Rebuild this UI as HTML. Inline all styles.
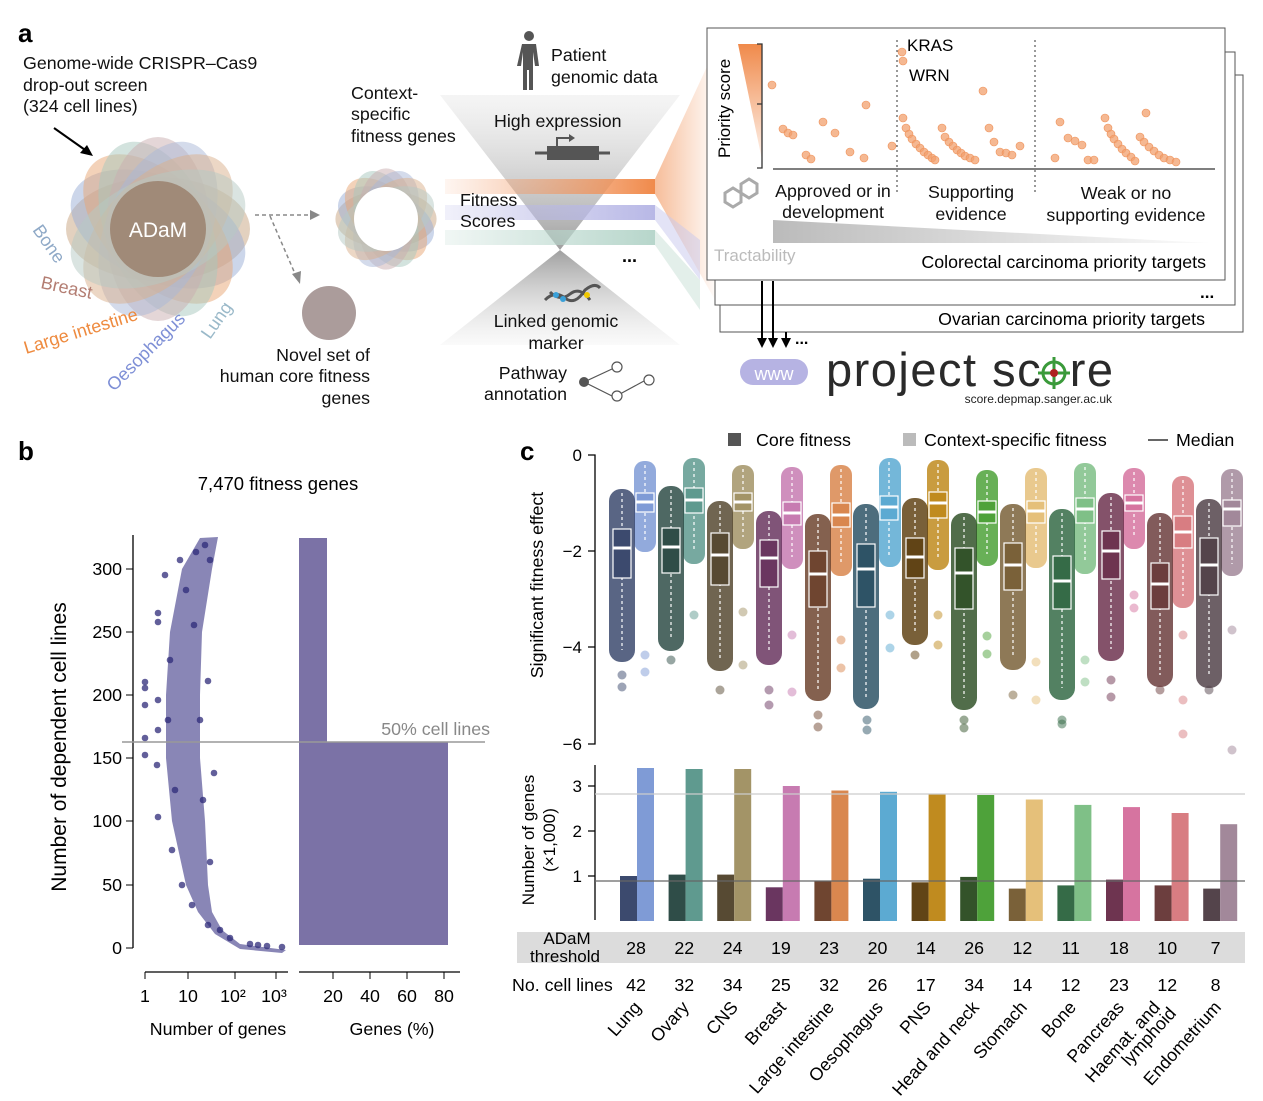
<!DOCTYPE html>
<html><head><meta charset="utf-8"><style>
body{margin:0;background:#fff}
svg{display:block;font-family:"Liberation Sans",sans-serif}
</style></head><body>
<svg width="1263" height="1101" viewBox="0 0 1263 1101" xmlns="http://www.w3.org/2000/svg">
<defs>
<linearGradient id="gt" x1="0" y1="0" x2="0" y2="1"><stop offset="0" stop-color="#ddd" stop-opacity="0.3"/><stop offset="1" stop-color="#888" stop-opacity="0.8"/></linearGradient>
<linearGradient id="gb" x1="0" y1="1" x2="0" y2="0"><stop offset="0" stop-color="#eee" stop-opacity="0.3"/><stop offset="1" stop-color="#888" stop-opacity="0.8"/></linearGradient>
<linearGradient id="go" x1="0" y1="0" x2="1" y2="0"><stop offset="0" stop-color="#f4a070" stop-opacity="0.1"/><stop offset="1" stop-color="#f08a4b"/></linearGradient>
<linearGradient id="gp" x1="0" y1="0" x2="1" y2="0"><stop offset="0" stop-color="#b8b8e6" stop-opacity="0.2"/><stop offset="1" stop-color="#b8b8e6"/></linearGradient>
<linearGradient id="gg" x1="0" y1="0" x2="1" y2="0"><stop offset="0" stop-color="#b7d6cb" stop-opacity="0.2"/><stop offset="1" stop-color="#b7d6cb"/></linearGradient>
<linearGradient id="gfan" x1="0" y1="0" x2="1" y2="0"><stop offset="0" stop-color="#f08a4b" stop-opacity="0.8"/><stop offset="1" stop-color="#f08a4b" stop-opacity="0.05"/></linearGradient>
<linearGradient id="gps" x1="0" y1="0" x2="0" y2="1"><stop offset="0" stop-color="#f08a4b"/><stop offset="1" stop-color="#f08a4b" stop-opacity="0.1"/></linearGradient>
<linearGradient id="gtr" x1="0" y1="0" x2="1" y2="0"><stop offset="0" stop-color="#bbb"/><stop offset="1" stop-color="#bbb" stop-opacity="0.05"/></linearGradient>
<g id="fl">
<ellipse rx="92" ry="52" transform="rotate(0)" fill="#c8a47f" fill-opacity="0.5"/>
<ellipse rx="92" ry="52" transform="rotate(22.5)" fill="#9aaed6" fill-opacity="0.5"/>
<ellipse rx="92" ry="52" transform="rotate(45)" fill="#e8a574" fill-opacity="0.5"/>
<ellipse rx="92" ry="52" transform="rotate(67.5)" fill="#a7c7bd" fill-opacity="0.5"/>
<ellipse rx="92" ry="52" transform="rotate(90)" fill="#c9aeb0" fill-opacity="0.5"/>
<ellipse rx="92" ry="52" transform="rotate(112.5)" fill="#a9b8d8" fill-opacity="0.5"/>
<ellipse rx="92" ry="52" transform="rotate(135)" fill="#d9b08c" fill-opacity="0.5"/>
<ellipse rx="92" ry="52" transform="rotate(157.5)" fill="#b5c9c4" fill-opacity="0.5"/>
</g>
</defs>
<!-- panel a -->
<text x="18" y="42" font-size="26" font-weight="bold">a</text>
<text font-size="17.8" fill="#111"><tspan x="23" y="69">Genome-wide CRISPR–Cas9</tspan><tspan x="23" y="91">drop-out screen</tspan><tspan x="23" y="112">(324 cell lines)</tspan></text>
<line x1="54" y1="128" x2="88" y2="152" stroke="#000" stroke-width="2"/><polygon points="93,156 80,153 87,145" fill="#000"/>
<use href="#fl" transform="translate(158,229)"/>
<circle cx="158" cy="229" r="48" fill="#a08a78"/>
<text x="158" y="237" font-size="21" fill="#fff" text-anchor="middle">ADaM</text>
<text transform="translate(32,230) rotate(55)" font-size="18" fill="#8fa9c7">Bone</text>
<text transform="translate(40,288) rotate(12)" font-size="18" fill="#b37d72">Breast</text>
<text transform="translate(26,354) rotate(-17)" font-size="18" fill="#ee8a3e">Large intestine</text>
<text transform="translate(114,392) rotate(-45)" font-size="18" fill="#7e8fd6">Oesophagus</text>
<text transform="translate(210,340) rotate(-55)" font-size="18" fill="#9ab9c9">Lung</text>
<use href="#fl" transform="translate(386,219) scale(0.55)"/>
<circle cx="386" cy="219" r="32" fill="#fff"/>
<text font-size="17.8" fill="#111"><tspan x="351" y="99">Context-</tspan><tspan x="351" y="120">specific</tspan><tspan x="351" y="142">fitness genes</tspan></text>
<line x1="255" y1="215" x2="312" y2="215" stroke="#888" stroke-width="1.5" stroke-dasharray="4,3"/><polygon points="320,215 310,210 310,220" fill="#888"/>
<line x1="270" y1="216" x2="296" y2="276" stroke="#888" stroke-width="1.5" stroke-dasharray="4,3"/><polygon points="300,284 292,274 301,271" fill="#888"/>
<circle cx="329" cy="313" r="27" fill="#ab9c9b"/>
<text font-size="17.8" fill="#111" text-anchor="end"><tspan x="370" y="361">Novel set of</tspan><tspan x="370" y="382">human core fitness</tspan><tspan x="370" y="404">genes</tspan></text>
<polygon points="440,95 680,95 560,250" fill="url(#gt)"/>
<polygon points="560,250 440,345 680,345" fill="url(#gb)"/>
<rect x="445" y="179" width="210" height="15" fill="url(#go)"/>
<rect x="445" y="205" width="210" height="15" fill="url(#gp)"/>
<rect x="445" y="230" width="210" height="15" fill="url(#gg)"/>
<polygon points="655,179 710,60 715,300 655,194" fill="url(#gfan)" opacity="0.7"/>
<polygon points="655,205 700,240 700,280 655,220" fill="#c8c8ee" opacity="0.5"/>
<polygon points="655,230 700,280 700,310 655,245" fill="#c8dfd6" opacity="0.5"/>
<text font-size="17.8" fill="#111"><tspan x="460" y="206">Fitness</tspan><tspan x="460" y="227">Scores</tspan></text>
<text x="622" y="262" font-size="18" font-weight="bold">...</text>
<g fill="#555"><circle cx="529" cy="36" r="5"/><path d="M522,44 h14 l3,22 h-4 l-2,-14 v38 h-4 v-20 h-2 v20 h-4 v-38 l-2,14 h-4z"/></g>
<text font-size="17.8" fill="#111"><tspan x="551" y="61">Patient</tspan><tspan x="551" y="83">genomic data</tspan></text>
<text x="494" y="127" font-size="17.8" fill="#111">High expression</text>
<rect x="547" y="146" width="52" height="14" fill="#555"/><line x1="535" y1="153" x2="610" y2="153" stroke="#555" stroke-width="3"/><path d="M557,146 v-8 h14" stroke="#555" stroke-width="2" fill="none"/><polygon points="575,138 569,134 569,142" fill="#555"/>
<path d="M545,300 q10,-10 20,-2 q10,8 20,-8 q10,-8 15,-2" stroke="#555" stroke-width="3" fill="none"/><path d="M550,292 q10,10 20,2 q10,-8 20,6" stroke="#555" stroke-width="3" fill="none"/><circle cx="556" cy="295" r="3" fill="#3aa0d8"/><circle cx="563" cy="299" r="3" fill="#3aa0d8"/><circle cx="587" cy="295" r="3" fill="#f0c800"/>
<text font-size="17.8" fill="#111" text-anchor="middle"><tspan x="556" y="327">Linked genomic</tspan><tspan x="556" y="349">marker</tspan></text>
<text font-size="17.8" fill="#111" text-anchor="end"><tspan x="567" y="379">Pathway</tspan><tspan x="567" y="400">annotation</tspan></text>
<circle cx="584" cy="382" r="5" fill="#555"/><g stroke="#555" fill="#fff" stroke-width="1.2"><line x1="584" y1="382" x2="612" y2="369"/><line x1="584" y1="382" x2="612" y2="396"/><line x1="620" y1="394" x2="644" y2="381"/><circle cx="617" cy="367" r="5"/><circle cx="617" cy="396" r="5"/><circle cx="649" cy="380" r="5"/></g>
<rect x="720" y="75" width="523" height="257" fill="#fff" stroke="#555"/>
<text x="1205" y="325" font-size="17.8" text-anchor="end">Ovarian carcinoma priority targets</text>
<rect x="715" y="52" width="520" height="253" fill="#fff" stroke="#555"/>
<text x="1200" y="298" font-size="17" font-weight="bold">...</text>
<rect x="707" y="28" width="518" height="252" fill="#fff" stroke="#555"/>
<text transform="translate(730,158) rotate(-90)" font-size="17">Priority score</text>
<polygon points="738,44 762,44 762,160" fill="url(#gps)"/>
<path d="M757,44 h5 v124 h-5 M757,104 h5" stroke="#333" fill="none" stroke-width="1.3"/>
<line x1="773" y1="169" x2="1215" y2="169" stroke="#333" stroke-width="1.3"/>
<line x1="897" y1="40" x2="897" y2="195" stroke="#333" stroke-dasharray="2,3"/><line x1="1035" y1="40" x2="1035" y2="195" stroke="#333" stroke-dasharray="2,3"/>
<text x="907" y="51" font-size="17">KRAS</text><text x="909" y="81" font-size="17">WRN</text>
<g fill="#f2a06e" fill-opacity="0.75" stroke="#ee9058" stroke-width="0.6">
<circle cx="772" cy="85" r="4"/><circle cx="783" cy="129" r="4"/><circle cx="788" cy="133" r="4"/><circle cx="793" cy="135" r="4"/><circle cx="823" cy="122" r="4"/><circle cx="835" cy="133" r="4"/><circle cx="806" cy="155" r="4"/><circle cx="811" cy="159" r="4"/><circle cx="850" cy="152" r="4"/><circle cx="866" cy="105" r="4"/><circle cx="892" cy="146" r="4"/><circle cx="864" cy="158" r="4"/><circle cx="902" cy="52" r="4"/><circle cx="903" cy="61" r="4"/><circle cx="983" cy="91" r="4"/>
<circle cx="903" cy="118" r="4"/><circle cx="906" cy="128" r="4"/><circle cx="909" cy="134" r="4"/><circle cx="912" cy="139" r="4"/><circle cx="916" cy="144" r="4"/><circle cx="920" cy="148" r="4"/><circle cx="924" cy="152" r="4"/><circle cx="928" cy="155" r="4"/><circle cx="932" cy="158" r="4"/><circle cx="935" cy="160" r="4"/>
<circle cx="942" cy="128" r="4"/><circle cx="945" cy="137" r="4"/><circle cx="949" cy="142" r="4"/><circle cx="953" cy="146" r="4"/><circle cx="957" cy="150" r="4"/><circle cx="961" cy="153" r="4"/><circle cx="965" cy="156" r="4"/><circle cx="970" cy="158" r="4"/><circle cx="975" cy="160" r="4"/>
<circle cx="989" cy="128" r="4"/><circle cx="994" cy="142" r="4"/><circle cx="1000" cy="152" r="4"/><circle cx="1006" cy="153" r="4"/><circle cx="1012" cy="155" r="4"/><circle cx="1020" cy="146" r="4"/>
<circle cx="1060" cy="122" r="4"/><circle cx="1068" cy="138" r="4"/><circle cx="1075" cy="141" r="4"/><circle cx="1082" cy="145" r="4"/><circle cx="1055" cy="158" r="4"/><circle cx="1088" cy="160" r="4"/><circle cx="1094" cy="160" r="4"/>
<circle cx="1105" cy="118" r="4"/><circle cx="1108" cy="128" r="4"/><circle cx="1111" cy="134" r="4"/><circle cx="1114" cy="139" r="4"/><circle cx="1118" cy="144" r="4"/><circle cx="1122" cy="149" r="4"/><circle cx="1126" cy="153" r="4"/><circle cx="1131" cy="157" r="4"/><circle cx="1135" cy="161" r="4"/>
<circle cx="1146" cy="113" r="4"/><circle cx="1140" cy="137" r="4"/><circle cx="1144" cy="142" r="4"/><circle cx="1149" cy="147" r="4"/><circle cx="1154" cy="151" r="4"/><circle cx="1159" cy="155" r="4"/><circle cx="1164" cy="158" r="4"/><circle cx="1170" cy="160" r="4"/><circle cx="1176" cy="162" r="4"/>
</g>
<g stroke="#aaa" stroke-width="3" fill="none"><polygon points="725,193 733,188 741,193 741,202 733,207 725,202"/><polygon points="741,184 749,179 757,184 757,193 749,198 741,193"/></g>
<text font-size="17.8" fill="#111" text-anchor="middle"><tspan x="833" y="197">Approved or in</tspan><tspan x="833" y="218">development</tspan><tspan x="971" y="198">Supporting</tspan><tspan x="971" y="220">evidence</tspan><tspan x="1126" y="199">Weak or no</tspan><tspan x="1126" y="221">supporting evidence</tspan></text>
<polygon points="773,220 773,243 1210,243" fill="url(#gtr)"/>
<text x="714" y="261" font-size="17" fill="#bbb">Tractability</text>
<text x="1206" y="268" font-size="17.8" text-anchor="end">Colorectal carcinoma priority targets</text>
<g stroke="#000" stroke-width="2"><line x1="762" y1="281" x2="762" y2="340"/><line x1="773" y1="281" x2="773" y2="340"/><line x1="786" y1="332" x2="786" y2="340"/></g>
<g fill="#000"><polygon points="757,338 767,338 762,348"/><polygon points="768,338 778,338 773,348"/><polygon points="781,338 791,338 786,348"/></g>
<text x="795" y="344" font-size="16" font-weight="bold">...</text>
<rect x="740" y="359" width="68" height="26" rx="13" fill="#b6b3e3"/><text x="774" y="380" font-size="18" fill="#fff" text-anchor="middle">www</text>
<text x="826" y="386" font-size="47" fill="#2a2a2a" letter-spacing="1.5">project sc<tspan fill="#fff">o</tspan>re</text>
<circle cx="1054" cy="373" r="11" fill="none" stroke="#3a9a3a" stroke-width="3"/><line x1="1038" y1="373" x2="1070" y2="373" stroke="#3a9a3a" stroke-width="3"/><line x1="1054" y1="357" x2="1054" y2="389" stroke="#3a9a3a" stroke-width="3"/><circle cx="1054" cy="373" r="4" fill="#b02020"/>
<text x="1112" y="403" font-size="12" text-anchor="end" fill="#222">score.depmap.sanger.ac.uk</text>
<!-- panel b -->
<text x="18" y="460" font-size="26" font-weight="bold">b</text>
<text x="278" y="490" font-size="18.5" text-anchor="middle">7,470 fitness genes</text>
<line x1="133" y1="535" x2="133" y2="948" stroke="#000" stroke-width="1.3"/>
<g stroke="#000"><line x1="126" y1="948" x2="133" y2="948"/><line x1="126" y1="885" x2="133" y2="885"/><line x1="126" y1="821" x2="133" y2="821"/><line x1="126" y1="758" x2="133" y2="758"/><line x1="126" y1="695" x2="133" y2="695"/><line x1="126" y1="632" x2="133" y2="632"/><line x1="126" y1="569" x2="133" y2="569"/></g>
<text font-size="17.8" text-anchor="end"><tspan x="122" y="954">0</tspan><tspan x="122" y="891">50</tspan><tspan x="122" y="827">100</tspan><tspan x="122" y="764">150</tspan><tspan x="122" y="701">200</tspan><tspan x="122" y="638">250</tspan><tspan x="122" y="575">300</tspan></text>
<text transform="translate(66,747) rotate(-90)" font-size="21" text-anchor="middle">Number of dependent cell lines</text>
<path d="M286,950 L240,944 L222,930 L212,912 L208,885 L205,821 L200,758 L200,695 L202,632 L212,569 L218,537 L200,538 L182,569 L170,632 L166,695 L166,758 L172,821 L186,885 L198,912 L215,934 L240,949 L282,953Z" fill="#3a3585" fill-opacity="0.6"/>
<g fill="#2e2a78" fill-opacity="0.75">
<circle cx="145" cy="682" r="3.3"/><circle cx="145" cy="688" r="3.3"/><circle cx="145" cy="705" r="3.3"/><circle cx="145" cy="738" r="3.3"/><circle cx="145" cy="755" r="3.3"/><circle cx="158" cy="613" r="3.3"/><circle cx="158" cy="622" r="3.3"/><circle cx="158" cy="700" r="3.3"/><circle cx="158" cy="730" r="3.3"/><circle cx="157" cy="765" r="3.3"/><circle cx="158" cy="817" r="3.3"/><circle cx="165" cy="575" r="3.3"/><circle cx="172" cy="850" r="3.3"/><circle cx="182" cy="885" r="3.3"/><circle cx="208" cy="681" r="3.3"/><circle cx="194" cy="625" r="3.3"/><circle cx="192" cy="905" r="3.3"/><circle cx="214" cy="773" r="3.3"/><circle cx="210" cy="862" r="3.3"/><circle cx="208" cy="925" r="3.3"/><circle cx="196" cy="552" r="3.3"/><circle cx="205" cy="545" r="3.3"/><circle cx="180" cy="560" r="3.3"/><circle cx="250" cy="944" r="3.3"/><circle cx="258" cy="945" r="3.3"/><circle cx="267" cy="946" r="3.3"/><circle cx="282" cy="947" r="3.3"/>
<circle cx="170" cy="660" r="3.3"/><circle cx="168" cy="720" r="3.3"/><circle cx="175" cy="790" r="3.3"/><circle cx="200" cy="720" r="3.3"/><circle cx="203" cy="800" r="3.3"/><circle cx="186" cy="590" r="3.3"/><circle cx="210" cy="560" r="3.3"/><circle cx="230" cy="938" r="3.3"/><circle cx="220" cy="930" r="3.3"/>
</g>
<rect x="299" y="538" width="28" height="407" fill="#7b72a6"/>
<rect x="299" y="742" width="149" height="203" fill="#7b72a6"/>
<line x1="122" y1="742" x2="485" y2="742" stroke="#999" stroke-width="1.5"/>
<text x="490" y="735" font-size="17.8" fill="#888" text-anchor="end">50% cell lines</text>
<line x1="145" y1="972" x2="288" y2="972" stroke="#000" stroke-width="1.3"/>
<g stroke="#000"><line x1="145" y1="972" x2="145" y2="979"/><line x1="188" y1="972" x2="188" y2="979"/><line x1="235" y1="972" x2="235" y2="979"/><line x1="276" y1="972" x2="276" y2="979"/></g>
<text font-size="17.8" text-anchor="middle" y="1002"><tspan x="145">1</tspan><tspan x="188">10</tspan><tspan x="233">10²</tspan><tspan x="274">10³</tspan></text>
<line x1="299" y1="972" x2="460" y2="972" stroke="#000" stroke-width="1.3"/>
<g stroke="#000"><line x1="333" y1="972" x2="333" y2="979"/><line x1="370" y1="972" x2="370" y2="979"/><line x1="407" y1="972" x2="407" y2="979"/><line x1="444" y1="972" x2="444" y2="979"/></g>
<text font-size="17.8" text-anchor="middle" y="1002"><tspan x="333">20</tspan><tspan x="370">40</tspan><tspan x="407">60</tspan><tspan x="444">80</tspan></text>
<text x="218" y="1035" font-size="17.8" text-anchor="middle">Number of genes</text>
<text x="392" y="1035" font-size="17.8" text-anchor="middle">Genes (%)</text>
<!-- panel c -->
<text x="520" y="460" font-size="26" font-weight="bold">c</text>
<rect x="728" y="433" width="13" height="13" fill="#555"/><text x="756" y="446" font-size="17.8">Core fitness</text>
<rect x="903" y="433" width="13" height="13" fill="#bbb"/><text x="924" y="446" font-size="17.8">Context-specific fitness</text>
<line x1="1148" y1="440" x2="1168" y2="440" stroke="#333" stroke-width="1.5"/><text x="1176" y="446" font-size="17.8">Median</text>
<path d="M588,455 h7 v289 h-7 M588,551 h7 M588,647 h7" stroke="#000" fill="none" stroke-width="1.3"/>
<text font-size="17" text-anchor="end"><tspan x="582" y="461">0</tspan><tspan x="582" y="557">−2</tspan><tspan x="582" y="653">−4</tspan><tspan x="582" y="750">−6</tspan></text>
<text transform="translate(543,585) rotate(-90)" font-size="17.8" text-anchor="middle">Significant fitness effect</text>
<g fill-opacity="0.85">
<rect x="634" y="461" width="22" height="91" rx="10" fill="#7f9bd6"/>
<rect x="683" y="458" width="22" height="106" rx="10" fill="#5f9a8f"/>
<rect x="732" y="465" width="22" height="84" rx="10" fill="#a39467"/>
<rect x="781" y="467" width="22" height="102" rx="10" fill="#c77bb1"/>
<rect x="830" y="465" width="22" height="111" rx="10" fill="#d9874f"/>
<rect x="879" y="458" width="22" height="109" rx="10" fill="#5caad2"/>
<rect x="927" y="460" width="22" height="110" rx="10" fill="#c08b1f"/>
<rect x="976" y="470" width="22" height="96" rx="10" fill="#4ea23a"/>
<rect x="1025" y="468" width="22" height="100" rx="10" fill="#e5c07a"/>
<rect x="1074" y="463" width="22" height="111" rx="10" fill="#7fc087"/>
<rect x="1123" y="468" width="22" height="81" rx="10" fill="#d674a0"/>
<rect x="1172" y="476" width="22" height="132" rx="10" fill="#d87d82"/>
<rect x="1221" y="469" width="22" height="107" rx="10" fill="#a2889a"/>
<rect x="609" y="489" width="26" height="173" rx="12" fill="#3c4a6e"/>
<rect x="658" y="486" width="26" height="165" rx="12" fill="#2f4d48"/>
<rect x="707" y="501" width="26" height="170" rx="12" fill="#574a33"/>
<rect x="756" y="511" width="26" height="154" rx="12" fill="#6a3660"/>
<rect x="805" y="514" width="26" height="187" rx="12" fill="#6f4530"/>
<rect x="853" y="504" width="26" height="205" rx="12" fill="#2e5366"/>
<rect x="902" y="498" width="26" height="147" rx="12" fill="#614416"/>
<rect x="951" y="513" width="26" height="197" rx="12" fill="#33532a"/>
<rect x="1000" y="504" width="26" height="166" rx="12" fill="#7a6139"/>
<rect x="1049" y="509" width="26" height="191" rx="12" fill="#356b47"/>
<rect x="1098" y="493" width="26" height="168" rx="12" fill="#6e3450"/>
<rect x="1147" y="513" width="26" height="174" rx="12" fill="#6c3e3e"/>
<rect x="1196" y="499" width="26" height="189" rx="12" fill="#54444b"/>
</g>
<g fill-opacity="0.5">
<circle cx="622" cy="675" r="4.5" fill="#3c4a6e"/><circle cx="622" cy="687" r="4.5" fill="#3c4a6e"/><circle cx="645" cy="655" r="4.5" fill="#7f9bd6"/><circle cx="645" cy="672" r="4.5" fill="#7f9bd6"/>
<circle cx="671" cy="660" r="4.5" fill="#2f4d48"/><circle cx="694" cy="615" r="4.5" fill="#5f9a8f"/>
<circle cx="720" cy="690" r="4.5" fill="#574a33"/><circle cx="743" cy="612" r="4.5" fill="#a39467"/><circle cx="743" cy="665" r="4.5" fill="#a39467"/>
<circle cx="769" cy="690" r="4.5" fill="#6a3660"/><circle cx="769" cy="705" r="4.5" fill="#6a3660"/><circle cx="792" cy="635" r="4.5" fill="#c77bb1"/><circle cx="792" cy="692" r="4.5" fill="#c77bb1"/>
<circle cx="818" cy="715" r="4.5" fill="#6f4530"/><circle cx="818" cy="727" r="4.5" fill="#6f4530"/><circle cx="841" cy="640" r="4.5" fill="#d9874f"/><circle cx="841" cy="668" r="4.5" fill="#d9874f"/>
<circle cx="867" cy="720" r="4.5" fill="#2e5366"/><circle cx="867" cy="730" r="4.5" fill="#2e5366"/><circle cx="890" cy="615" r="4.5" fill="#5caad2"/><circle cx="890" cy="648" r="4.5" fill="#5caad2"/>
<circle cx="915" cy="655" r="4.5" fill="#614416"/><circle cx="938" cy="615" r="4.5" fill="#c08b1f"/><circle cx="938" cy="645" r="4.5" fill="#c08b1f"/>
<circle cx="964" cy="720" r="4.5" fill="#33532a"/><circle cx="964" cy="728" r="4.5" fill="#33532a"/><circle cx="987" cy="636" r="4.5" fill="#4ea23a"/><circle cx="987" cy="654" r="4.5" fill="#4ea23a"/>
<circle cx="1013" cy="695" r="4.5" fill="#7a6139"/><circle cx="1036" cy="662" r="4.5" fill="#e5c07a"/><circle cx="1036" cy="700" r="4.5" fill="#e5c07a"/>
<circle cx="1062" cy="720" r="4.5" fill="#356b47"/><circle cx="1062" cy="724" r="4.5" fill="#356b47"/><circle cx="1085" cy="660" r="4.5" fill="#7fc087"/><circle cx="1085" cy="682" r="4.5" fill="#7fc087"/>
<circle cx="1111" cy="680" r="4.5" fill="#6e3450"/><circle cx="1111" cy="697" r="4.5" fill="#6e3450"/><circle cx="1134" cy="595" r="4.5" fill="#d674a0"/><circle cx="1134" cy="608" r="4.5" fill="#d674a0"/>
<circle cx="1160" cy="690" r="4.5" fill="#6c3e3e"/><circle cx="1183" cy="635" r="4.5" fill="#d87d82"/><circle cx="1183" cy="700" r="4.5" fill="#d87d82"/><circle cx="1183" cy="734" r="4.5" fill="#d87d82"/>
<circle cx="1209" cy="690" r="4.5" fill="#54444b"/><circle cx="1232" cy="630" r="4.5" fill="#a2889a"/><circle cx="1232" cy="750" r="4.5" fill="#a2889a"/>
</g>
<g stroke="#fff" stroke-width="1.2" stroke-dasharray="3,3">
<line x1="622" y1="493" x2="622" y2="650"/><line x1="645" y1="465" x2="645" y2="540"/>
<line x1="671" y1="490" x2="671" y2="639"/><line x1="694" y1="462" x2="694" y2="552"/>
<line x1="720" y1="505" x2="720" y2="659"/><line x1="743" y1="469" x2="743" y2="537"/>
<line x1="769" y1="515" x2="769" y2="653"/><line x1="792" y1="471" x2="792" y2="557"/>
<line x1="818" y1="518" x2="818" y2="689"/><line x1="841" y1="469" x2="841" y2="564"/>
<line x1="866" y1="508" x2="866" y2="697"/><line x1="889" y1="462" x2="889" y2="555"/>
<line x1="915" y1="502" x2="915" y2="633"/><line x1="938" y1="464" x2="938" y2="558"/>
<line x1="964" y1="517" x2="964" y2="698"/><line x1="987" y1="474" x2="987" y2="554"/>
<line x1="1013" y1="508" x2="1013" y2="658"/><line x1="1036" y1="472" x2="1036" y2="556"/>
<line x1="1062" y1="513" x2="1062" y2="688"/><line x1="1085" y1="467" x2="1085" y2="562"/>
<line x1="1111" y1="497" x2="1111" y2="649"/><line x1="1134" y1="472" x2="1134" y2="537"/>
<line x1="1160" y1="517" x2="1160" y2="675"/><line x1="1183" y1="480" x2="1183" y2="596"/>
<line x1="1209" y1="503" x2="1209" y2="676"/><line x1="1232" y1="473" x2="1232" y2="564"/>
</g>
<g stroke="#fff" stroke-width="1.2">
<rect x="613" y="529" width="18" height="49" fill="#3c4a6e"/><rect x="636" y="493" width="18" height="19" fill="#7f9bd6"/>
<rect x="662" y="528" width="18" height="45" fill="#2f4d48"/><rect x="685" y="488" width="18" height="25" fill="#5f9a8f"/>
<rect x="711" y="533" width="18" height="52" fill="#574a33"/><rect x="734" y="493" width="18" height="18" fill="#a39467"/>
<rect x="760" y="540" width="18" height="47" fill="#6a3660"/><rect x="783" y="502" width="18" height="23" fill="#c77bb1"/>
<rect x="809" y="551" width="18" height="56" fill="#6f4530"/><rect x="832" y="503" width="18" height="24" fill="#d9874f"/>
<rect x="857" y="544" width="18" height="63" fill="#2e5366"/><rect x="880" y="496" width="18" height="24" fill="#5caad2"/>
<rect x="906" y="538" width="18" height="40" fill="#614416"/><rect x="929" y="492" width="18" height="26" fill="#c08b1f"/>
<rect x="955" y="548" width="18" height="61" fill="#33532a"/><rect x="978" y="501" width="18" height="22" fill="#4ea23a"/>
<rect x="1004" y="543" width="18" height="47" fill="#7a6139"/><rect x="1027" y="501" width="18" height="22" fill="#e5c07a"/>
<rect x="1053" y="556" width="18" height="53" fill="#356b47"/><rect x="1076" y="498" width="18" height="25" fill="#7fc087"/>
<rect x="1102" y="531" width="18" height="48" fill="#6e3450"/><rect x="1125" y="495" width="18" height="16" fill="#d674a0"/>
<rect x="1151" y="563" width="18" height="46" fill="#6c3e3e"/><rect x="1174" y="516" width="18" height="32" fill="#d87d82"/>
<rect x="1200" y="538" width="18" height="57" fill="#54444b"/><rect x="1223" y="500" width="18" height="26" fill="#a2889a"/>
</g>
<g stroke="#fff" stroke-width="3">
<line x1="613" y1="548" x2="631" y2="548"/><line x1="636" y1="502" x2="654" y2="502"/>
<line x1="662" y1="547" x2="680" y2="547"/><line x1="685" y1="500" x2="703" y2="500"/>
<line x1="711" y1="555" x2="729" y2="555"/><line x1="734" y1="502" x2="752" y2="502"/>
<line x1="760" y1="558" x2="778" y2="558"/><line x1="783" y1="513" x2="801" y2="513"/>
<line x1="809" y1="574" x2="827" y2="574"/><line x1="832" y1="515" x2="850" y2="515"/>
<line x1="857" y1="569" x2="875" y2="569"/><line x1="880" y1="507" x2="898" y2="507"/>
<line x1="906" y1="557" x2="924" y2="557"/><line x1="929" y1="503" x2="947" y2="503"/>
<line x1="955" y1="573" x2="973" y2="573"/><line x1="978" y1="512" x2="996" y2="512"/>
<line x1="1004" y1="565" x2="1022" y2="565"/><line x1="1027" y1="511" x2="1045" y2="511"/>
<line x1="1053" y1="581" x2="1071" y2="581"/><line x1="1076" y1="509" x2="1094" y2="509"/>
<line x1="1102" y1="551" x2="1120" y2="551"/><line x1="1125" y1="503" x2="1143" y2="503"/>
<line x1="1151" y1="584" x2="1169" y2="584"/><line x1="1174" y1="532" x2="1192" y2="532"/>
<line x1="1200" y1="565" x2="1218" y2="565"/><line x1="1223" y1="509" x2="1241" y2="509"/>
</g>
<path d="M588,786 h7 M588,831 h7 M588,876 h7 M595,765 v155" stroke="#000" fill="none" stroke-width="1.3"/>
<text font-size="17" text-anchor="end"><tspan x="582" y="792">3</tspan><tspan x="582" y="837">2</tspan><tspan x="582" y="882">1</tspan></text>
<text transform="translate(534,840) rotate(-90)" font-size="17" text-anchor="middle">Number of genes</text>
<text transform="translate(555,840) rotate(-90)" font-size="17" text-anchor="middle">(×1,000)</text>
<rect x="620" y="876" width="17" height="45" fill="#3c4a6e"/><rect x="637" y="768" width="17" height="153" fill="#7f9bd6"/>
<rect x="668.6" y="874.6" width="17" height="46.4" fill="#2f4d48"/><rect x="685.6" y="769" width="17" height="152" fill="#5f9a8f"/>
<rect x="717.2" y="874.6" width="17" height="46.4" fill="#574a33"/><rect x="734.2" y="769" width="17" height="152" fill="#a39467"/>
<rect x="765.8" y="887.3" width="17" height="33.7" fill="#6a3660"/><rect x="782.8" y="786" width="17" height="135" fill="#c77bb1"/>
<rect x="814.4" y="881.4" width="17" height="39.6" fill="#6f4530"/><rect x="831.4" y="790.5" width="17" height="130.5" fill="#d9874f"/>
<rect x="863" y="878.7" width="17" height="42.3" fill="#2e5366"/><rect x="880" y="791.8" width="17" height="129.2" fill="#5caad2"/>
<rect x="911.6" y="882.3" width="17" height="38.7" fill="#614416"/><rect x="928.6" y="793.6" width="17" height="127.4" fill="#c08b1f"/>
<rect x="960.2" y="876.9" width="17" height="44.1" fill="#33532a"/><rect x="977.2" y="795" width="17" height="126" fill="#4ea23a"/>
<rect x="1008.8" y="888.6" width="17" height="32.4" fill="#7a6139"/><rect x="1025.8" y="799.5" width="17" height="121.5" fill="#e5c07a"/>
<rect x="1057.4" y="885.4" width="17" height="35.6" fill="#356b47"/><rect x="1074.4" y="804.9" width="17" height="116.1" fill="#7fc087"/>
<rect x="1106" y="879.6" width="17" height="41.4" fill="#6e3450"/><rect x="1123" y="807.1" width="17" height="113.9" fill="#d674a0"/>
<rect x="1154.6" y="885.4" width="17" height="35.6" fill="#6c3e3e"/><rect x="1171.6" y="813" width="17" height="108" fill="#d87d82"/>
<rect x="1203.2" y="888.6" width="17" height="32.4" fill="#54444b"/><rect x="1220.2" y="824.2" width="17" height="96.8" fill="#a2889a"/>
<line x1="595" y1="794" x2="1245" y2="794" stroke="#ccc" stroke-width="1.3"/>
<line x1="595" y1="881" x2="1245" y2="881" stroke="#666" stroke-width="1.3"/>
<rect x="517" y="932" width="728" height="31" fill="#dcdcdc"/>
<text font-size="17" text-anchor="middle"><tspan x="567" y="944">ADaM</tspan><tspan x="565" y="962">threshold</tspan></text>
<text x="512" y="991" font-size="17.8">No. cell lines</text>
<text font-size="17.8" text-anchor="middle" y="954"><tspan x="636">28</tspan><tspan x="684.3">22</tspan><tspan x="732.6">24</tspan><tspan x="780.9">19</tspan><tspan x="829.2">23</tspan><tspan x="877.5">20</tspan><tspan x="925.8">14</tspan><tspan x="974.1">26</tspan><tspan x="1022.4">12</tspan><tspan x="1070.7">11</tspan><tspan x="1119">18</tspan><tspan x="1167.3">10</tspan><tspan x="1215.6">7</tspan></text>
<text font-size="17.8" text-anchor="middle" y="991"><tspan x="636">42</tspan><tspan x="684.3">32</tspan><tspan x="732.6">34</tspan><tspan x="780.9">25</tspan><tspan x="829.2">32</tspan><tspan x="877.5">26</tspan><tspan x="925.8">17</tspan><tspan x="974.1">34</tspan><tspan x="1022.4">14</tspan><tspan x="1070.7">12</tspan><tspan x="1119">23</tspan><tspan x="1167.3">12</tspan><tspan x="1215.6">8</tspan></text>
<g font-size="17.8" text-anchor="end">
<text transform="translate(642,1008) rotate(-48)">Lung</text>
<text transform="translate(690,1008) rotate(-48)">Ovary</text>
<text transform="translate(739,1008) rotate(-48)">CNS</text>
<text transform="translate(787,1008) rotate(-48)">Breast</text>
<text transform="translate(835,1008) rotate(-48)">Large intestine</text>
<text transform="translate(884,1008) rotate(-48)">Oesophagus</text>
<text transform="translate(932,1008) rotate(-48)">PNS</text>
<text transform="translate(980,1008) rotate(-48)">Head and neck</text>
<text transform="translate(1028,1008) rotate(-48)">Stomach</text>
<text transform="translate(1077,1008) rotate(-48)">Bone</text>
<text transform="translate(1125,1008) rotate(-48)">Pancreas</text>
<text transform="translate(1161,1008) rotate(-48)">Haemat. and</text>
<text transform="translate(1177,1014) rotate(-48)">lymphoid</text>
<text transform="translate(1222,1008) rotate(-48)">Endometrium</text>
</g>
</svg>
</body></html>
